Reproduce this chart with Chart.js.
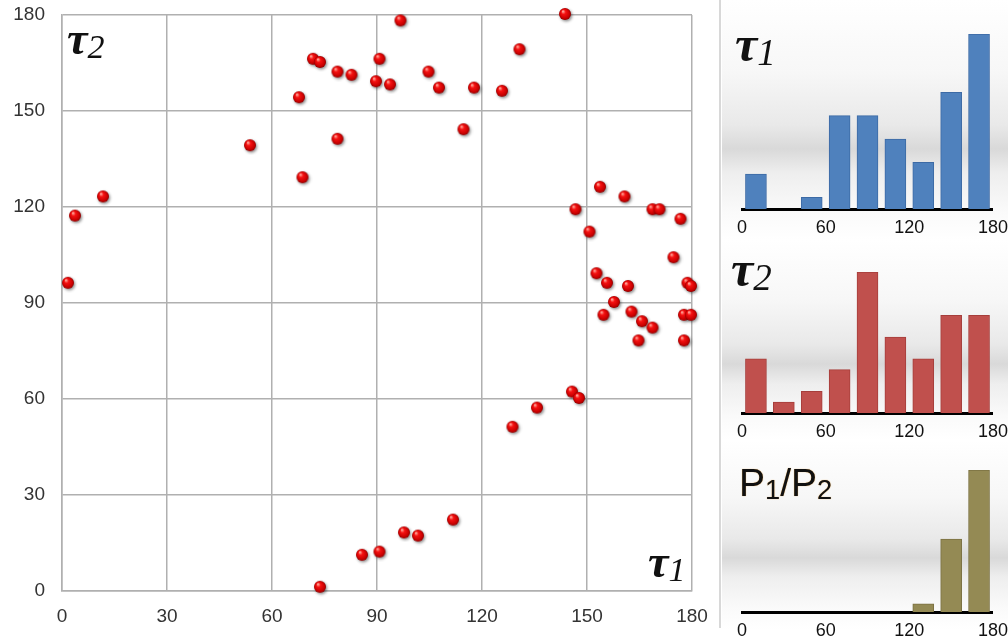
<!DOCTYPE html>
<html>
<head>
<meta charset="utf-8">
<script src="https://cdn.jsdelivr.net/npm/chart.js@4.4.1/dist/chart.umd.min.js"></script>
<style>
  body { margin: 0; background: #fff; }
  #page { position: relative; width: 1008px; height: 640px; overflow: hidden; background: #fff; }
  canvas { position: absolute; }
  .panel {
    position: absolute; left: 722px; width: 286px;
    background: linear-gradient(to bottom, #ffffff 0%, #f7f7f7 30%, #e9e9e9 52%, #d9d9d9 62%, #eeeeee 72%, #fafafa 88%, #ffffff 100%);
  }
  .sep { position: absolute; left: 719px; top: 0; width: 2px; height: 628px; background: #d8d8d8; }
  .tau { position: absolute; font-family: "Liberation Serif", "DejaVu Serif", serif; font-style: italic; font-weight: bold; color: #111; line-height: 1; white-space: nowrap; }
  .tau sub { font-size: 0.74em; font-weight: normal; vertical-align: baseline; position: relative; top: 0.12em; }
  .ratio { position: absolute; font-family: "Liberation Sans", Arial, sans-serif; color: #111; line-height: 1; white-space: nowrap;
           text-shadow: 0 0 1px rgba(230,150,40,0.9); }
  .ratio sub { font-size: 0.7em; vertical-align: baseline; position: relative; top: 0.1em; }
</style>
</head>
<body>
<div id="page">
  <div class="panel" style="top:0;height:240px"></div>
  <div class="panel" style="top:240px;height:200px"></div>
  <div class="panel" style="top:440px;height:190px"></div>
  <div class="sep"></div>

  <canvas id="scatter" width="710" height="640" style="left:0;top:0"></canvas>
  <canvas id="hist1" width="286" height="240" style="left:722px;top:0"></canvas>
  <canvas id="hist2" width="286" height="205" style="left:722px;top:240px"></canvas>
  <canvas id="hist3" width="286" height="200" style="left:722px;top:440px"></canvas>

  <div class="tau" style="left:67px;top:16px;font-size:46px">τ<sub>2</sub></div>
  <div class="tau" style="left:648px;top:539px;font-size:46px">τ<sub>1</sub></div>
  <div class="tau" style="left:735px;top:19px;font-size:50px">τ<sub>1</sub></div>
  <div class="tau" style="left:731px;top:244px;font-size:50px">τ<sub>2</sub></div>
  <div class="ratio" style="left:739px;top:463px;font-size:39px">P<sub>1</sub>/P<sub>2</sub></div>
</div>

<script>
// scatter points (tau1, tau2)
const tau1 = [2, 4, 12, 54, 68, 69, 72, 74, 79, 79, 83, 97, 91, 90, 94, 105, 108, 118, 126, 131,
              144, 115, 154, 161, 147, 169, 171, 177, 151, 175, 153, 156, 162, 179, 180, 158, 155, 163, 178, 180,
              166, 169, 165, 178, 146, 148, 136, 129, 112, 98, 102, 91, 86, 74];
const tau2 = [96, 117, 123, 139, 154, 129, 166, 165, 162, 141, 161, 178, 166, 159, 158, 162, 157, 157, 156, 169,
              180, 144, 126, 123, 119, 119, 119, 116, 112, 104, 99, 96, 95, 96, 95, 90, 86, 87, 86, 86,
              84, 82, 78, 78, 62, 60, 57, 51, 22, 18, 17, 12, 11, 1];
const mainTicks = [0, 30, 60, 90, 120, 150, 180];

// histograms, 20 degree bins
const binCenters = [10, 30, 50, 70, 90, 110, 130, 150, 170];
const tau1Counts = [3, 0, 1, 8, 8, 6, 4, 10, 15];
const tau2Counts = [5, 1, 2, 4, 13, 7, 5, 9, 9];
const ratioCounts = [0, 0, 0, 0, 0, 0, 1, 9, 17.5];
const histTicks = [0, 60, 120, 180];

const sans = '"Liberation Sans", Arial, sans-serif';

function makeBall(r) {
    const size = Math.ceil(r * 2 + 6);
    const c = document.createElement('canvas');
    c.width = size;
    c.height = size;
    const g = c.getContext('2d');
    const cx = size / 2 - 1, cy = size / 2 - 1;
    g.shadowColor = 'rgba(0,0,0,0.45)';
    g.shadowBlur = 3;
    g.shadowOffsetX = 1.2;
    g.shadowOffsetY = 1.5;
    const grad = g.createRadialGradient(cx - r * 0.35, cy - r * 0.45, r * 0.1, cx, cy, r);
    grad.addColorStop(0, '#ff9b8f');
    grad.addColorStop(0.3, '#f51212');
    grad.addColorStop(0.8, '#c80000');
    grad.addColorStop(1, '#8c0000');
    g.fillStyle = grad;
    g.beginPath();
    g.arc(cx, cy, r, 0, Math.PI * 2);
    g.fill();
    return c;
}

const gridColor = '#b0b0b0';

new Chart(document.getElementById('scatter'), {
    type: 'scatter',
    data: {
        datasets: [{
            data: tau1.map((x, i) => ({ x: x, y: tau2[i] })),
            pointStyle: makeBall(6),
            pointRadius: 6,
            clip: false
        }]
    },
    options: {
        responsive: false,
        animation: false,
        layout: { autoPadding: false, padding: { top: 15, right: 18, left: 0, bottom: 0 } },
        plugins: { legend: { display: false }, tooltip: { enabled: false } },
        scales: {
            x: {
                type: 'linear', min: 0, max: 180,
                afterBuildTicks: s => { s.ticks = mainTicks.map(v => ({ value: v })); },
                // fixed band height; label overhang handled by the canvas padding
                afterFit: s => { s.height = 49; s.paddingLeft = 0; s.paddingRight = 0; },
                grid: { color: gridColor, lineWidth: 1.5, drawTicks: false },
                border: { color: gridColor, width: 1.5 },
                ticks: { padding: 14, color: '#333', autoSkip: false, maxRotation: 0, font: { family: sans, size: 19 } }
            },
            y: {
                type: 'linear', min: 0, max: 180,
                afterBuildTicks: s => { s.ticks = mainTicks.map(v => ({ value: v })); },
                afterFit: s => { s.width = 62; s.paddingTop = 0; s.paddingBottom = 0; },
                grid: { color: gridColor, lineWidth: 1.5, drawTicks: false },
                border: { color: gridColor, width: 1.5 },
                ticks: { padding: 17, color: '#333', autoSkip: false, font: { family: sans, size: 19 } }
            }
        }
    }
});

function makeHist(id, counts, fill, edge, yMax, top, axisHeight) {
    new Chart(document.getElementById(id), {
        type: 'bar',
        data: {
            datasets: [{
                data: binCenters.map((c, i) => ({ x: c, y: counts[i] })),
                backgroundColor: fill,
                borderColor: edge,
                borderWidth: 1,
                barThickness: 21
            }]
        },
        options: {
            responsive: false,
            animation: false,
            layout: { padding: { top: top, left: 20, right: 8, bottom: 0 } },
            plugins: { legend: { display: false }, tooltip: { enabled: false } },
            scales: {
                x: {
                    type: 'linear', min: 0, max: 180, offset: false,
                    afterBuildTicks: s => { s.ticks = histTicks.map(v => ({ value: v })); },
                    afterFit: s => { s.height = axisHeight; },
                    grid: { display: false, offset: false },
                    border: { color: '#000', width: 3 },
                    ticks: { padding: 0, color: '#111', autoSkip: false, maxRotation: 0, font: { family: sans, size: 18 } }
                },
                y: { display: false, min: 0, max: yMax }
            }
        }
    });
}

makeHist('hist1', tau1Counts, '#4f81bd', '#3c6aa5', 15, 34, 31);
makeHist('hist2', tau2Counts, '#c0504d', '#a63e3b', 13, 32, 32);
makeHist('hist3', ratioCounts, '#948a54', '#7b7142', 17.5, 30, 28);
</script>
</body>
</html>
